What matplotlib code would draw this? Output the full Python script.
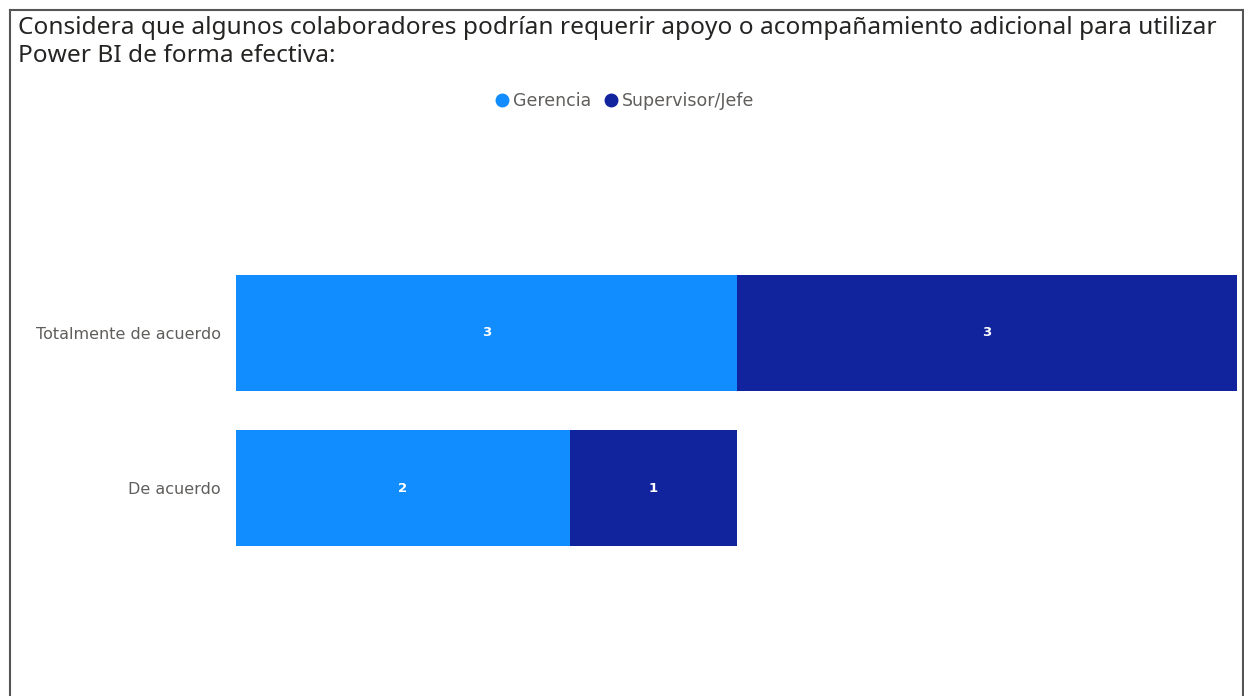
import matplotlib.pyplot as plt
from matplotlib.lines import Line2D

# data
categories = ["Totalmente de acuerdo", "De acuerdo"]
gerencia = [3, 2]
supervisor = [3, 1]
series_names = ["Gerencia", "Supervisor/Jefe"]
colors = ["#118DFF", "#12239E"]

W, H = 1244, 696
fig = plt.figure(figsize=(W / 100, H / 100), dpi=100)

# plot area in pixels: x 236..1237, y 178..643
ax = fig.add_axes([236 / W, 1 - 643 / H, (1237 - 236) / W, (643 - 178) / H])

ypos = list(range(len(categories)))
bar_h = 116 / 155
ax.barh(ypos, gerencia, height=bar_h, color=colors[0], label=series_names[0])
ax.barh(ypos, supervisor, left=gerencia, height=bar_h, color=colors[1], label=series_names[1])

for i in ypos:
    ax.text(gerencia[i] / 2, i, str(gerencia[i]), color="white", ha="center",
            va="center", fontsize=9.5, fontweight="bold")
    ax.text(gerencia[i] + supervisor[i] / 2, i, str(supervisor[i]), color="white",
            ha="center", va="center", fontsize=9.5, fontweight="bold")

ax.set_xlim(0, 6)
ax.set_ylim(2, -1)
ax.set_yticks(ypos)
ax.set_yticklabels(categories, color="#605E5C", fontsize=11.5)
ax.tick_params(axis="y", length=0, pad=10.8)
ax.set_xticks([])
for s in ax.spines.values():
    s.set_visible(False)

# title
fig.text(18 / W, 1 - 42 / H,
         "Considera que algunos colaboradores podrían requerir apoyo o acompañamiento adicional para utilizar\nPower BI de forma efectiva:",
         fontsize=17.6, color="#252423", ha="left", va="center", linespacing=1.22,
         family="Noto Sans")

# legend
handles = [Line2D([], [], marker="o", linestyle="", markersize=9, color=c) for c in colors]
fig.legend(handles, series_names, loc="center", bbox_to_anchor=(624 / W, 1 - 101 / H),
           ncol=2, frameon=False, fontsize=12.5, labelcolor="#605E5C",
           handletextpad=0.15, columnspacing=0.6, handlelength=1.0)

# frame around the visual
frame_kw = dict(color="#555555", linewidth=1.5, transform=fig.transFigure)
fig.add_artist(Line2D([10 / W, 10 / W], [0, 1 - 10 / H], **frame_kw))
fig.add_artist(Line2D([10 / W, 1243 / W], [1 - 10 / H, 1 - 10 / H], **frame_kw))
fig.add_artist(Line2D([1243 / W, 1243 / W], [0, 1 - 10 / H], **frame_kw))

fig.savefig("out.png", dpi=100, facecolor="white")
